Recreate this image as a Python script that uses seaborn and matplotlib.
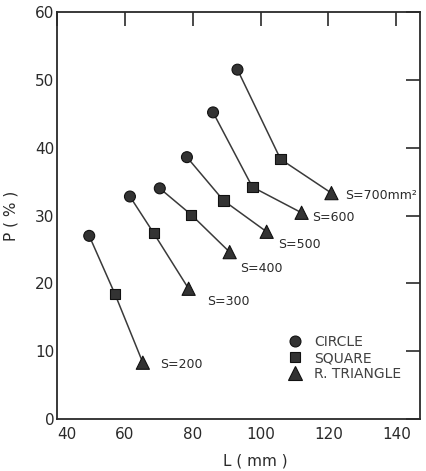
import matplotlib
matplotlib.use("Agg")
import matplotlib.pyplot as plt
import seaborn as sns
import pandas as pd

# ---- data ----
S_values = [200, 300, 400, 500, 600, 700]
S_labels = ["S=200", "S=300", "S=400", "S=500", "S=600", "S=700mm²"]
circle_L = [49.5, 61.5, 70.3, 78.3, 86.0, 93.2]
circle_P = [27.0, 32.8, 34.0, 38.6, 45.2, 51.5]
square_L = [57.1, 68.5, 79.6, 89.1, 97.6, 105.9]
square_P = [18.4, 27.4, 30.1, 32.2, 34.2, 38.3]
tri_L = [65.3, 78.8, 90.9, 101.8, 112.1, 120.9]
tri_P = [8.3, 19.2, 24.6, 27.6, 30.4, 33.3]
shape_names = ["CIRCLE", "SQUARE", "R. TRIANGLE"]
x_ticks = [40, 60, 80, 100, 120, 140]
y_ticks = [0, 10, 20, 30, 40, 50, 60]

rows = []
for i, s in enumerate(S_values):
    rows.append(dict(S=s, L=circle_L[i], P=circle_P[i], shape=shape_names[0]))
    rows.append(dict(S=s, L=square_L[i], P=square_P[i], shape=shape_names[1]))
    rows.append(dict(S=s, L=tri_L[i], P=tri_P[i], shape=shape_names[2]))
df = pd.DataFrame(rows)

sns.set_style("white")
plt.rcParams["font.family"] = ["DejaVu Sans"]

fig = plt.figure(figsize=(4.26, 4.71), dpi=100)
ax = fig.add_axes([57 / 426, 1 - 419 / 471, (420 - 57) / 426, (419 - 12) / 471])

ink = "#2a2a2a"
sns.lineplot(data=df, x="L", y="P", units="S", estimator=None, sort=False,
             color="#3a3a3a", linewidth=1.1, ax=ax, legend=False)
sns.scatterplot(data=df, x="L", y="P", style="shape",
                markers={"CIRCLE": "o", "SQUARE": "s", "R. TRIANGLE": "^"},
                size="shape", sizes={"CIRCLE": 62, "SQUARE": 55, "R. TRIANGLE": 90},
                color="#333333", edgecolor="#111111", linewidth=0.8,
                ax=ax, zorder=3)

# S labels next to the triangles
offsets = [(17, -2), (18, -13), (10, -16), (11, -13), (11, -5), (14, -2)]
for lab, xl, yl, off in zip(S_labels, tri_L, tri_P, offsets):
    ax.annotate(lab, (xl, yl), xytext=off, textcoords="offset pixels",
                ha="left", va="center", fontsize=9, color=ink,
                annotation_clip=False, clip_on=False)

ax.set_xlim(40, 147)
ax.set_ylim(0, 60)
ax.set_xticks(x_ticks)
ax.set_yticks(y_ticks)
ax.tick_params(direction="in", length=10, width=1.2, top=True, right=True,
               labelsize=11, colors=ink)
ax.tick_params(axis="x", pad=6)
ax.tick_params(axis="y", pad=2)
for sp in ax.spines.values():
    sp.set_visible(True)
    sp.set_linewidth(1.3)
    sp.set_color(ink)
for t in ax.get_xticklabels():
    if t.get_text() == "40":
        t.set_horizontalalignment("left")

ax.set_xlabel("L ( mm )", fontsize=11, color=ink)
ax.set_ylabel("P ( % )", fontsize=11, color=ink)
ax.xaxis.set_label_coords(0.545, -0.085)
ax.yaxis.set_label_coords(-0.105, 0.5)

h, l = ax.get_legend_handles_labels()
leg = ax.legend(h, l, loc="upper left", bbox_to_anchor=(0.62, 0.22), frameon=False,
                fontsize=10, handletextpad=0.9, labelspacing=0.15,
                borderaxespad=0, handlelength=1.0)
for t in leg.get_texts():
    t.set_color("#404040")

fig.savefig("out.png", dpi=100)
